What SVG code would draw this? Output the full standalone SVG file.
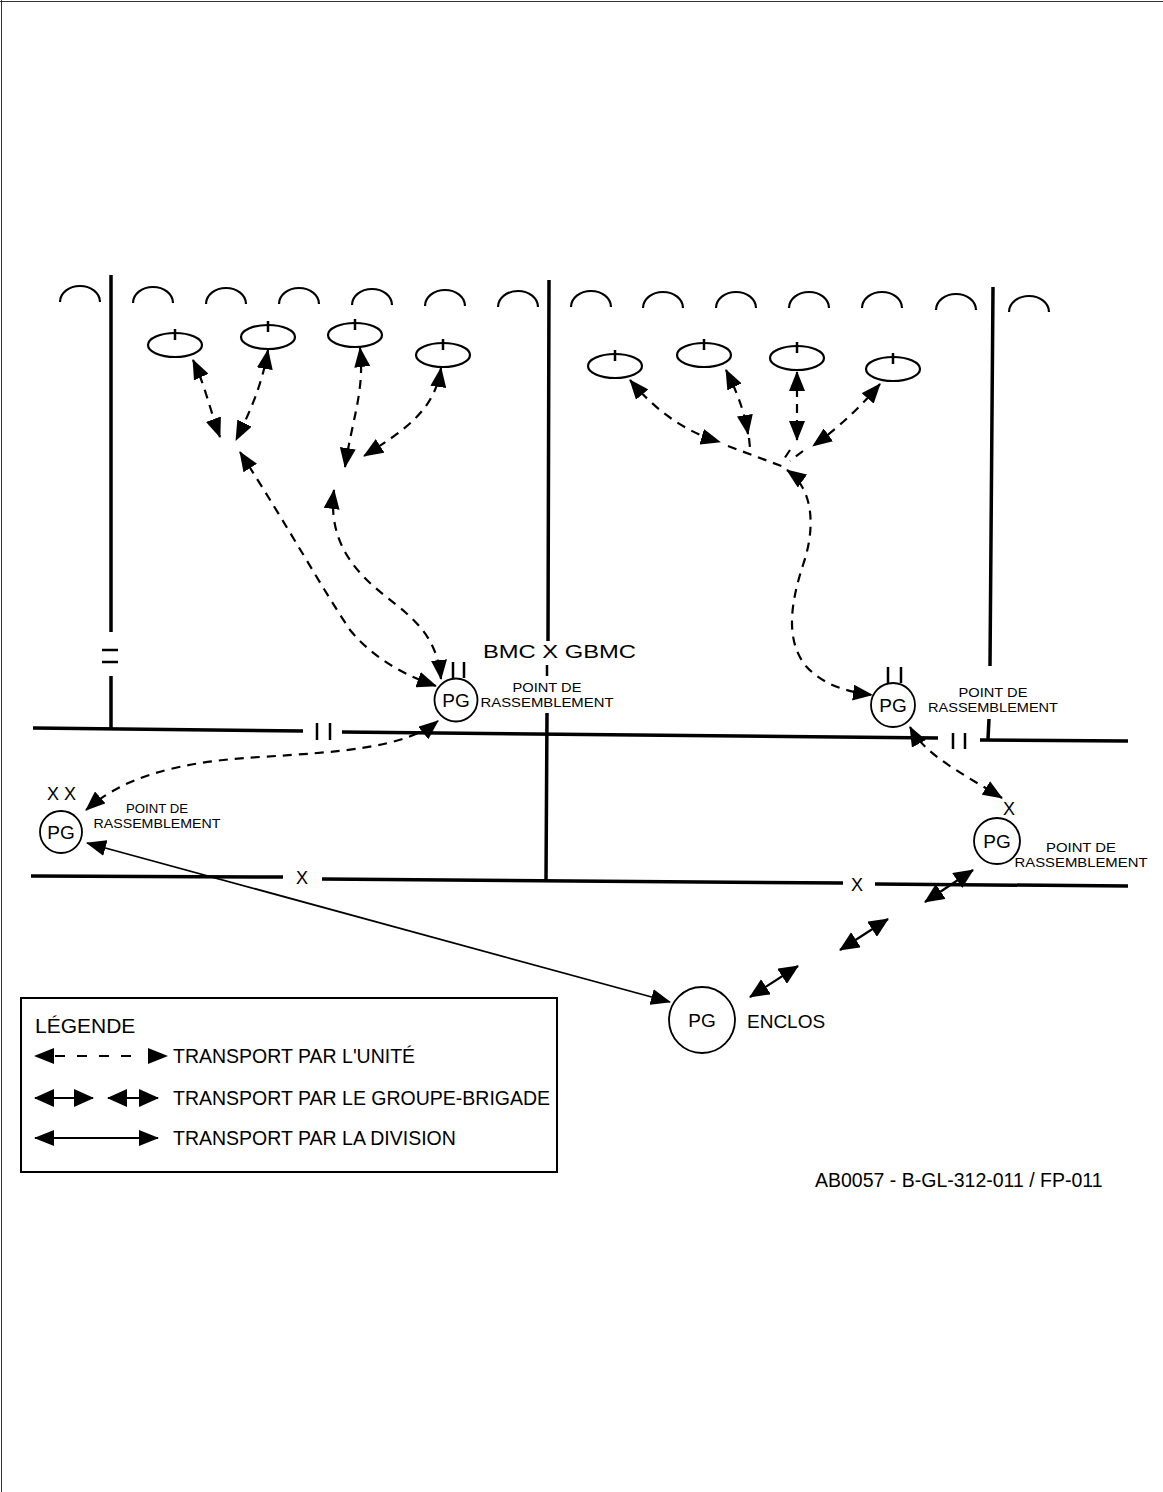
<svg xmlns="http://www.w3.org/2000/svg" width="1163" height="1492" viewBox="0 0 1163 1492">
<style>
  .bg{fill:#fff}
  .frame{stroke:#333;stroke-width:1;fill:none}
  .thick{stroke:#000;stroke-width:3.5;fill:none;stroke-linecap:butt}
  .tick{stroke:#000;stroke-width:2.5;fill:none}
  .arc{stroke:#000;stroke-width:2.2;fill:none}
  .ell{stroke:#000;stroke-width:2.2;fill:none}
  .circ{stroke:#000;stroke-width:1.8;fill:#fff}
  .dash{stroke:#000;stroke-width:2.2;fill:none;stroke-dasharray:9 7}
  .solid{stroke:#000;stroke-width:1.8;fill:none}
  .brig{stroke:#000;stroke-width:2.2;fill:none}
  text{font-family:"Liberation Sans",Arial,sans-serif;fill:#000}
  .pg{font-size:19px;text-anchor:middle}
  .lbl{font-size:13px;text-anchor:middle}
  .mk{font-size:18px}
  .leg{font-size:19.5px}
</style>
<defs>
  <marker id="ah" viewBox="0 0 20 16" refX="19" refY="8" markerWidth="20" markerHeight="16" markerUnits="userSpaceOnUse" orient="auto-start-reverse">
    <path d="M0,0 L20,8 L0,16 z" fill="#000"/>
  </marker>
  <marker id="bh" viewBox="0 0 20 18" refX="19" refY="9" markerWidth="20" markerHeight="18" markerUnits="userSpaceOnUse" orient="auto-start-reverse">
    <path d="M0,0 L20,9 L0,18 z" fill="#000"/>
  </marker>
</defs>
<rect class="bg" x="0" y="0" width="1163" height="1492"/>
<g id="frame">
  <line class="frame" x1="0" y1="1.5" x2="1163" y2="1.5"/>
  <line class="frame" x1="1.5" y1="0" x2="1.5" y2="1492"/>
</g>

<g id="boundaries">
  <path class="thick" d="M111,275 L111,632 M111,676 L111,728"/>
  <path class="tick" d="M102,650 L118,650 M102,662 L118,662"/>
  <path class="thick" d="M549,280 L548,641 M547,713 L546,880"/>
  <path class="tick" d="M547,665 L547,676"/>
  <path class="thick" d="M993,287 L990,666 M989,719 L988,739"/>
  <path class="thick" d="M33,728 L303,731 M342,732 L938,738 M980,740 L1128,741"/>
  <path class="tick" d="M317,723 L317,740 M330,723 L330,740 M953,733 L953,749 M965,733 L965,749"/>
  <path class="thick" d="M31,876 L283,877 M322,879 L843,883 M875,884 L1128,886"/>
  <text class="mk" x="296" y="884">X</text>
  <text class="mk" x="851" y="891">X</text>
</g>

<g id="positions">
  <path class="arc" d="M60,302 A20 16 0 0 1 100,302"/>
  <path class="arc" d="M133,303 A20 16 0 0 1 173,303"/>
  <path class="arc" d="M206,304 A20 16 0 0 1 246,304"/>
  <path class="arc" d="M279,304 A20 16 0 0 1 319,304"/>
  <path class="arc" d="M352,305 A20 16 0 0 1 392,305"/>
  <path class="arc" d="M425,306 A20 16 0 0 1 465,306"/>
  <path class="arc" d="M498,307 A20 16 0 0 1 538,307"/>
  <path class="arc" d="M571,307 A20 16 0 0 1 611,307"/>
  <path class="arc" d="M643,308 A20 16 0 0 1 683,308"/>
  <path class="arc" d="M716,308 A20 16 0 0 1 756,308"/>
  <path class="arc" d="M789,308 A20 16 0 0 1 829,308"/>
  <path class="arc" d="M862,308 A20 16 0 0 1 902,308"/>
  <path class="arc" d="M936,310 A20 16 0 0 1 976,310"/>
  <path class="arc" d="M1009,312 A20 16 0 0 1 1049,312"/>
</g>

<g id="units-left">
  <g id="u1"><ellipse class="ell" cx="175" cy="345" rx="27" ry="12"/><line class="tick" x1="175" y1="329" x2="175" y2="340"/></g>
  <g id="u2"><ellipse class="ell" cx="268" cy="337" rx="27" ry="12"/><line class="tick" x1="268" y1="321" x2="268" y2="332"/></g>
  <g id="u3"><ellipse class="ell" cx="355" cy="335" rx="27" ry="12"/><line class="tick" x1="355" y1="319" x2="355" y2="330"/></g>
  <g id="u4"><ellipse class="ell" cx="443" cy="355" rx="27" ry="12"/><line class="tick" x1="443" y1="339" x2="443" y2="350"/></g>
</g>
<g id="units-right">
  <g id="u5"><ellipse class="ell" cx="615" cy="366" rx="27" ry="12"/><line class="tick" x1="615" y1="350" x2="615" y2="361"/></g>
  <g id="u6"><ellipse class="ell" cx="704" cy="355" rx="27" ry="12"/><line class="tick" x1="704" y1="339" x2="704" y2="350"/></g>
  <g id="u7"><ellipse class="ell" cx="797" cy="358" rx="27" ry="12"/><line class="tick" x1="797" y1="342" x2="797" y2="353"/></g>
  <g id="u8"><ellipse class="ell" cx="893" cy="369" rx="27" ry="12"/><line class="tick" x1="893" y1="353" x2="893" y2="364"/></g>
</g>

<g id="connectors">
  <path class="dash" d="M193,360 C205,385 210,410 220,437" marker-start="url(#ah)" marker-end="url(#ah)"/>
  <path class="dash" d="M268,350 C262,385 250,412 236,440" marker-start="url(#ah)" marker-end="url(#ah)"/>
  <path class="dash" d="M240,452 C290,530 320,585 350,630 C375,660 405,675 436,686" marker-start="url(#ah)" marker-end="url(#ah)"/>
  <path class="dash" d="M360,348 C365,390 352,420 345,467" marker-start="url(#ah)" marker-end="url(#ah)"/>
  <path class="dash" d="M441,368 C435,410 405,430 364,456" marker-start="url(#ah)" marker-end="url(#ah)"/>
  <path class="dash" d="M334,490 C325,560 380,590 405,612 C428,632 438,650 441,679" marker-start="url(#ah)" marker-end="url(#ah)"/>
  <path class="dash" d="M86,810 C120,780 170,762 260,757 C340,752 405,748 438,721" marker-start="url(#ah)" marker-end="url(#ah)"/>
  <path class="solid" d="M87,843 L670,1002" marker-start="url(#ah)" marker-end="url(#ah)"/>

  <path class="dash" d="M630,380 C655,410 685,432 720,442" marker-start="url(#ah)" marker-end="url(#ah)"/>
  <path class="dash" d="M728,446 L784,467"/>
  <path class="dash" d="M726,370 C737,392 744,410 748,434" marker-start="url(#ah)" marker-end="url(#ah)"/>
  <path class="dash" d="M749,438 L750,448"/>
  <path class="dash" d="M797,372 L797,440" marker-start="url(#ah)" marker-end="url(#ah)"/>
  <path class="dash" d="M790,450 L782,462"/>
  <path class="dash" d="M880,384 C862,405 842,425 813,446" marker-start="url(#ah)" marker-end="url(#ah)"/>
  <path class="dash" d="M803,451 L790,461"/>
  <path class="dash" d="M787,470 C815,490 815,530 803,565 C790,605 786,640 805,665 C822,685 848,692 872,695" marker-start="url(#ah)" marker-end="url(#ah)"/>
  <path class="dash" d="M910,727 C925,755 960,772 1002,798" marker-start="url(#ah)" marker-end="url(#ah)"/>

  <path class="brig" d="M750,997 L798,966" marker-start="url(#bh)" marker-end="url(#bh)"/>
  <path class="brig" d="M840,950 L888,919" marker-start="url(#bh)" marker-end="url(#bh)"/>
  <path class="brig" d="M925,902 L973,870" marker-start="url(#bh)" marker-end="url(#bh)"/>
</g>

<g id="pg-bmc">
  <circle class="circ" cx="456" cy="700" r="21.5"/>
  <text class="pg" x="456" y="707">PG</text>
  <path class="tick" d="M453,662 L453,678 M464,662 L464,678"/>
  <text x="483" y="658" font-size="18" textLength="153" lengthAdjust="spacingAndGlyphs">BMC X GBMC</text>
  <text class="lbl" x="547" y="692" textLength="69" lengthAdjust="spacingAndGlyphs">POINT DE</text>
  <text class="lbl" x="547" y="707" textLength="133" lengthAdjust="spacingAndGlyphs">RASSEMBLEMENT</text>
</g>

<g id="pg-div">
  <circle class="circ" cx="61" cy="832" r="21"/>
  <text class="pg" x="61" y="839">PG</text>
  <text class="mk" x="47" y="800">X X</text>
  <text class="lbl" x="157" y="813" textLength="62" lengthAdjust="spacingAndGlyphs">POINT DE</text>
  <text class="lbl" x="157" y="828" textLength="127" lengthAdjust="spacingAndGlyphs">RASSEMBLEMENT</text>
</g>

<g id="pg-right">
  <circle class="circ" cx="893" cy="705" r="22"/>
  <text class="pg" x="893" y="712">PG</text>
  <path class="tick" d="M888,667 L888,683 M901,667 L901,683"/>
  <text class="lbl" x="993" y="697" textLength="69" lengthAdjust="spacingAndGlyphs">POINT DE</text>
  <text class="lbl" x="993" y="712" textLength="130" lengthAdjust="spacingAndGlyphs">RASSEMBLEMENT</text>
</g>

<g id="pg-bde">
  <circle class="circ" cx="997" cy="841" r="23"/>
  <text class="pg" x="997" y="848">PG</text>
  <text class="mk" x="1003" y="815">X</text>
  <text class="lbl" x="1081" y="852" textLength="70" lengthAdjust="spacingAndGlyphs">POINT DE</text>
  <text class="lbl" x="1081" y="867" textLength="133" lengthAdjust="spacingAndGlyphs">RASSEMBLEMENT</text>
</g>

<g id="pg-enclos">
  <circle class="circ" cx="702" cy="1020" r="33"/>
  <text class="pg" x="702" y="1027" font-size="18">PG</text>
  <text x="747" y="1028" font-size="19">ENCLOS</text>
</g>

<g id="legend">
  <rect x="21" y="998" width="536" height="174" fill="none" stroke="#000" stroke-width="2"/>
  <text x="35" y="1033" font-size="21">LÉGENDE</text>
  <path class="dash" d="M35,1056 L167,1056" style="stroke-dasharray:0 20 10 12 10 12 10 12 10 40" marker-start="url(#ah)" marker-end="url(#ah)"/>
  <text class="leg" x="173" y="1063">TRANSPORT PAR L'UNITÉ</text>
  <path class="brig" d="M35,1098 L93,1098" marker-start="url(#bh)" marker-end="url(#bh)"/>
  <path class="brig" d="M108,1098 L158,1098" marker-start="url(#bh)" marker-end="url(#bh)"/>
  <text class="leg" x="173" y="1105">TRANSPORT PAR LE GROUPE-BRIGADE</text>
  <path class="solid" d="M35,1138 L158,1138" marker-start="url(#ah)" marker-end="url(#ah)"/>
  <text class="leg" x="173" y="1145">TRANSPORT PAR LA DIVISION</text>
</g>

<g id="footer">
  <text x="815" y="1187" font-size="19.5">AB0057 - B-GL-312-011 / FP-011</text>
</g>
</svg>
